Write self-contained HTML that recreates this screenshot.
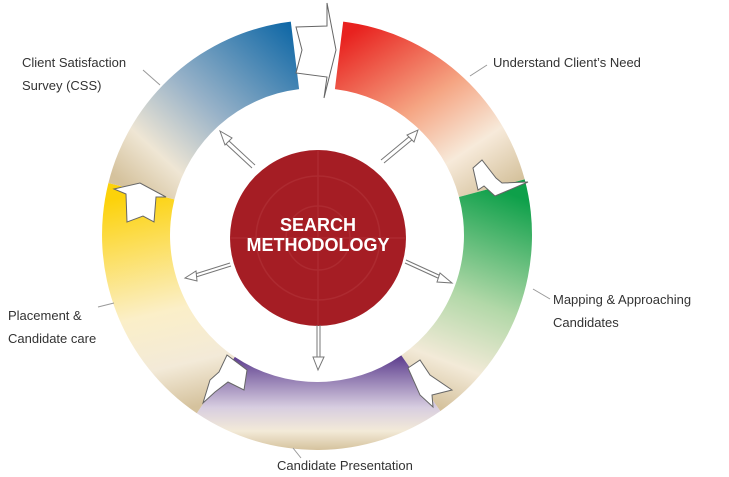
<!DOCTYPE html>
<html><head><meta charset="utf-8"><style>
html,body{margin:0;padding:0;background:#fff;}
body{width:729px;height:473px;overflow:hidden;position:relative;font-family:"Liberation Sans",Arial,sans-serif;}
.t{position:absolute;font-size:13px;color:#333;line-height:23px;}
</style></head><body>
<svg id="s" width="729" height="473" style="position:absolute;left:0;top:0">
<defs>
<linearGradient id="gr" gradientUnits="userSpaceOnUse" x1="370" y1="20" x2="490" y2="200"><stop offset="0" stop-color="#e8221f"/><stop offset="0.45" stop-color="#f5a482"/><stop offset="0.75" stop-color="#f7eada"/><stop offset="1" stop-color="#d5c29d"/></linearGradient>
<linearGradient id="gg" gradientUnits="userSpaceOnUse" x1="500" y1="190" x2="420" y2="400"><stop offset="0" stop-color="#0ea04a"/><stop offset="0.5" stop-color="#b2d8a8"/><stop offset="0.8" stop-color="#f3ead8"/><stop offset="1" stop-color="#d5c29d"/></linearGradient>
<linearGradient id="gp" gradientUnits="userSpaceOnUse" x1="320" y1="355" x2="320" y2="450"><stop offset="0" stop-color="#5a3a8c"/><stop offset="0.55" stop-color="#d7cde0"/><stop offset="0.8" stop-color="#f3ead8"/><stop offset="1" stop-color="#d5c29d"/></linearGradient>
<linearGradient id="gy" gradientUnits="userSpaceOnUse" x1="130" y1="195" x2="180" y2="410"><stop offset="0" stop-color="#fcd20a"/><stop offset="0.55" stop-color="#fbefc8"/><stop offset="0.8" stop-color="#f3ead8"/><stop offset="1" stop-color="#d5c29d"/></linearGradient>
<linearGradient id="gb" gradientUnits="userSpaceOnUse" x1="285" y1="20" x2="130" y2="190"><stop offset="0" stop-color="#1068a6"/><stop offset="0.5" stop-color="#98b2c8"/><stop offset="0.8" stop-color="#efe6d4"/><stop offset="1" stop-color="#d5c29d"/></linearGradient>
</defs>
<g id="segs"></g>
<circle cx="318" cy="238" r="88" fill="#a51d24"/>
<g fill="none" stroke="#b5383d" stroke-width="1.5" opacity="0.5">
<circle cx="318" cy="238" r="62"/><circle cx="318" cy="238" r="32"/>
<line x1="318" y1="150" x2="318" y2="326"/><line x1="230" y1="238" x2="406" y2="238"/>
</g>
<text x="318" y="231" text-anchor="middle" fill="#fff" font-family="Liberation Sans" font-weight="bold" font-size="18">SEARCH</text>
<text x="318" y="251" text-anchor="middle" fill="#fff" font-family="Liberation Sans" font-weight="bold" font-size="18">METHODOLOGY</text>
<g fill="#fff" stroke="#666" stroke-width="1">
<polygon points="296,27 327,26 327,3 336,50 324,98 327,77 296,73 302,50"/>
<polygon points="114,189 140,183 166,197 156,197 154,222 143,216 127,222 126,194"/>
<polygon points="473,168 482,160 496,178 502,183 528,182 495,196 484,186 478,190"/>
<polygon points="408,368 420,360 430,375 452,390 432,395 433,407 420,395"/>
<polygon points="227,355 247,370 244,390 228,382 215,392 203,403 210,380 219,372"/>
</g>
<g stroke="#777" stroke-width="1" fill="#fff">
<line x1="255" y1="165" x2="228" y2="140"/><line x1="252" y1="168" x2="225" y2="143"/><polygon points="220,131 232,138 225,145"/>
<line x1="381" y1="160" x2="410" y2="136"/><line x1="384" y1="163" x2="413" y2="139"/><polygon points="418,130 414,142 407,135"/>
<line x1="230" y1="263" x2="195" y2="274"/><line x1="231" y1="266" x2="196" y2="277"/><polygon points="185,278 196,271 197,281"/>
<line x1="406" y1="260" x2="441" y2="276"/><line x1="405" y1="263" x2="440" y2="279"/><polygon points="452,283 440,273 437,282"/>
<line x1="317" y1="325" x2="317" y2="358"/><line x1="320" y1="325" x2="320" y2="358"/><polygon points="318,370 313,357 324,357"/>
</g>
<g stroke="#999" stroke-width="1">
<line x1="143" y1="70" x2="160" y2="85"/><line x1="470" y1="76" x2="487" y2="65"/><line x1="533" y1="289" x2="550" y2="299"/><line x1="98" y1="307" x2="114" y2="303"/><line x1="293" y1="448" x2="301" y2="458"/>
</g>
</svg>
<div class="t" style="left:22px;top:51px">Client Satisfaction<br>Survey (CSS)</div>
<div class="t" style="left:493px;top:51px">Understand Client’s Need</div>
<div class="t" style="left:553px;top:288px">Mapping &amp; Approaching<br>Candidates</div>
<div class="t" style="left:8px;top:304px">Placement &amp;<br>Candidate care</div>
<div class="t" style="left:277px;top:454px">Candidate Presentation</div>
<script>
var cx=317,cy=235,R=215,r=147;
function p(a,rad){var t=(a-90)*Math.PI/180;return (cx+rad*Math.cos(t)).toFixed(1)+","+(cy+rad*Math.sin(t)).toFixed(1);}
function seg(a1,a2,f){var l=(a2-a1)>180?1:0;return '<path fill="url(#'+f+')" d="M'+p(a1,R)+' A'+R+','+R+' 0 '+l+' 1 '+p(a2,R)+' L'+p(a2,r)+' A'+r+','+r+' 0 '+l+' 0 '+p(a1,r)+' Z"/>';}
document.getElementById('segs').innerHTML=seg(7,75,'gr')+seg(75,145,'gg')+seg(145,214,'gp')+seg(214,284,'gy')+seg(284,353,'gb');
</script>
</body></html>
